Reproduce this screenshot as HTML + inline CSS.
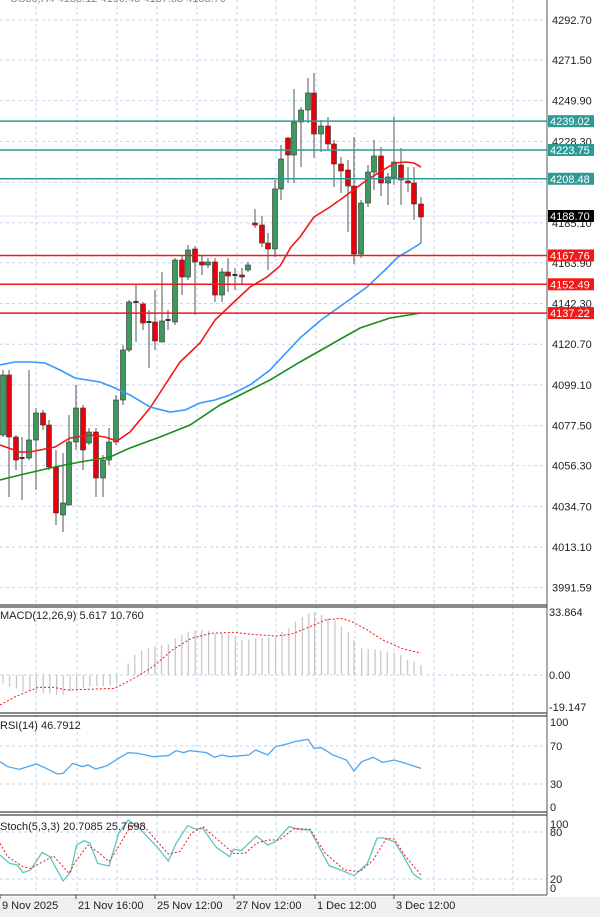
<!DOCTYPE html>
<html><head><meta charset="utf-8"><style>
html,body{margin:0;padding:0;background:#fff;width:600px;height:917px;overflow:hidden}
svg{display:block}
text{font-family:"Liberation Sans",sans-serif;font-size:11px;fill:#222}
</style></head><body>
<svg id="s" width="600" height="917" xmlns="http://www.w3.org/2000/svg"></svg>
<script>
const s=document.getElementById('s');let h='';
const Y=p=>20+(4292.7-p)*1.885;
// grid
const gx=[36,77,117,157,197,237,276,316,355,394,434,473,513];
const prices=[4292.70,4271.50,4249.90,4228.30,4206.70,4185.10,4163.90,4142.30,4120.70,4099.10,4077.50,4056.30,4034.70,4013.10,3991.59];
gx.forEach(x=>{h+=`<line x1="${x}" y1="0" x2="${x}" y2="895" stroke="#c5d3ea" stroke-dasharray="3,3"/>`});
prices.forEach(p=>{let y=Y(p);h+=`<line x1="0" y1="${y}" x2="547" y2="${y}" stroke="#c5d3ea" stroke-dasharray="3,3"/>`;
 if(p!=4206.70)h+=`<text x="552" y="${y+4}">${p.toFixed(2)}</text>`});
// sub grids
[746,784].forEach(y=>h+=`<line x1="0" y1="${y}" x2="547" y2="${y}" stroke="#c5d3ea" stroke-dasharray="3,3"/>`);
[832,879].forEach(y=>h+=`<line x1="0" y1="${y}" x2="547" y2="${y}" stroke="#c5d3ea" stroke-dasharray="3,3"/>`);
h+=`<line x1="0" y1="675" x2="547" y2="675" stroke="#c5d3ea" stroke-dasharray="3,3"/>`;
h+=`<line x1="0" y1="216" x2="547" y2="216" stroke="#dde4f0" stroke-width="1"/>`;
// candles
const C=[[3,375,435,'g',370,437],[9,375,437,'r',370,497],[16,437,460,'r',435,470],[22,458,460,'t',437,500],[29,440,458,'g',370,460],[36,413,440,'g',408,490],[43,413,425,'r',410,430],[49,425,467,'r',420,470],[56,467,513,'r',450,525],[63,503,515,'g',453,532],[69,442,505,'g',415,505],[76,408,442,'g',385,450],[83,408,450,'r',405,470],[89,432,443,'g',428,445],[96,432,478,'r',428,497],[103,460,478,'g',455,497],[109,442,460,'g',428,465],[116,400,442,'g',395,445],[123,350,400,'g',345,405],[129,302,350,'g',300,352],[136,302,303,'t',285,342],[143,304,323,'r',302,330],[149,322,323,'t',310,368],[155,322,341,'r',290,350],[162,321,342,'g',272,342],[168,320,321,'t',310,330],[175,260,322,'g',258,325],[182,260,277,'r',255,295],[188,250,277,'g',245,280],[195,249,262,'r',246,315],[202,262,265,'r',255,275],[208,262,265,'g',258,268],[215,262,295,'r',258,302],[222,272,295,'g',268,302],[228,272,276,'r',258,292],[235,275,276,'t',268,290],[242,275,277,'r',268,285],[248,265,270,'g',262,272],
[255,223,225,'r',209,228],[262,225,243,'r',216,247],[268,243,249,'r',233,270],[275,189,249,'g',180,257],[281,159,189,'g',145,200],[288,138,155,'r',137,183],[294,122,155,'g',89,183],[301,110,122,'g',107,167],[308,93,110,'g',78,123],[314,93,134,'r',73,158],[321,126,134,'g',120,152],[328,126,144,'r',117,150],[334,144,164,'r',140,187],[341,164,171,'r',157,193],[348,170,186,'r',160,232],[354,186,254,'r',137,264],[361,203,254,'g',200,258],[368,172,203,'g',165,207],[374,156,172,'g',140,190],[381,156,183,'r',147,196],[388,177,183,'g',173,205],[394,162,178,'g',117,185],[401,165,180,'r',148,205],[408,181,183,'r',167,192],[414,183,204,'r',167,220],[421,204,217,'r',197,243]];
C.forEach(c=>{let [x,t,b,k,wt,wb]=c;let col=k=='g'?'#3c9a5f':'#e8000b';
 h+=`<line x1="${x}" y1="${wt}" x2="${x}" y2="${wb}" stroke="#555" stroke-width="1"/>`;
 if(k=='t')h+=`<rect x="${x-2.5}" y="${t-1}" width="5" height="2" fill="#333"/>`;
 else h+=`<rect x="${x-2.5}" y="${t}" width="5" height="${Math.max(b-t,1.5)}" fill="${col}" stroke="#333" stroke-width="0.6"/>`;});
const P=(pts,col,w,da)=>`<polyline points="${pts.map(p=>p.join(',')).join(' ')}" fill="none" stroke="${col}" stroke-width="${w}" ${da?'stroke-dasharray="'+da+'"':''}/>`;
h+=P([[0,445],[20,452],[30,452],[55,447],[70,438],[90,435],[105,437],[117,441],[130,432],[150,408],[165,385],[180,362],[200,343],[215,320],[233,303],[250,287],[267,277],[280,266],[291,247],[300,237],[314,217],[330,207],[344,197],[367,180],[383,170],[395,163],[406,162],[414,163],[421,167]],'#f01818',1.6);
h+=P([[0,365],[15,362],[30,362],[45,363],[60,370],[75,378],[100,382],[115,388],[130,395],[150,407],[170,412],[185,410],[200,403],[215,400],[230,395],[250,385],[270,370],[300,338],[321,320],[345,303],[367,287],[385,270],[398,257],[410,250],[421,243]],'#3399ff',1.6);
h+=P([[0,480],[20,475],[50,468],[80,462],[110,457],[130,448],[160,437],[190,425],[220,405],[250,390],[270,380],[300,362],[330,345],[360,328],[390,318],[421,313]],'#1a8c1a',1.6);
// levels
[[4239.02,'#2e9a94'],[4223.75,'#2e9a94'],[4208.48,'#2e9a94'],[4167.76,'#f01818'],[4152.49,'#f01818'],[4137.22,'#f01818']].forEach(l=>{let y=Y(l[0]);
 h+=`<line x1="0" y1="${y}" x2="547" y2="${y}" stroke="${l[1]}" stroke-width="1.5"/>`;
 h+=`<rect x="548" y="${y-6}" width="46" height="12" fill="${l[1]}"/><text x="550" y="${y+4}" style="fill:#fff">${l[0].toFixed(2)}</text>`});
h+=`<rect x="548" y="210" width="46" height="12" fill="#000"/><text x="550" y="220" style="fill:#fff">4188.70</text>`;
// MACD histogram
const hv=[[8,250],[25,260],[43,265],[60,275],[78,275],[95,280],[113,280],[130,280],[148,285],[165,285],[183,275],[200,270],[218,265],[235,260],[253,258],[270,258],[288,255],[305,250],[335,190],[352,165],[370,152],[388,145],[405,137],[422,135],[440,132],[458,115],[475,105],[492,95],[510,92],[527,90],[545,92],[562,100],[580,100],[597,103],[615,108],[632,120],[650,118],[668,115],[685,115],[702,113],[720,110],[737,95],[755,85],[772,65],[790,52],[807,40],[822,38],[840,45],[857,55],[875,60],[892,80],[910,95],[925,120],[945,145],[962,147],[980,148],[995,152],[1012,155],[1030,158],[1047,165],[1065,180],[1082,185],[1100,195]];
hv.forEach(v=>{let x=v[0]/2.613,y=600+v[1]/3;h+=`<line x1="${x}" y1="675" x2="${x}" y2="${y}" stroke="#c8c8c8" stroke-width="1.3"/>`});
const cv=(a)=>a.map(p=>[p[0]/2.613,600+p[1]/3]);
h+=P(cv([[0,315],[40,290],[100,262],[140,262],[175,270],[230,268],[300,265],[350,235],[400,200],[450,150],[500,115],[550,100],[610,97],[660,103],[720,108],[760,103],[800,85],[850,60],[890,55],[920,65],[960,90],[1000,120],[1050,145],[1100,160]]),'#f01818',1,'2,2');
h+=P(cv([[0,485],[20,500],[50,508],[95,492],[120,505],[150,522],[165,520],[190,490],[215,500],[230,495],[250,507],[280,497],[310,475],[335,458],[360,460],[400,470],[440,467],[460,452],[480,458],[495,452],[540,458],[560,472],[580,465],[600,470],[650,465],[668,450],[700,465],[720,440],[750,432],[770,425],[805,418],[820,445],[840,443],[870,465],[905,480],[925,513],[945,485],[975,472],[1000,487],[1030,480],[1060,490],[1100,505]]),'#4ea6ee',1.3);
h+=P(cv([[0,765],[25,790],[45,795],[60,818],[80,810],[110,757],[130,770],[165,843],[185,815],[200,735],[220,722],[235,730],[255,790],[285,798],[310,700],[335,660],[360,680],[410,740],[440,783],[460,730],[490,677],[510,687],[530,685],[565,742],[600,770],[610,748],[630,752],[670,708],[700,735],[720,725],[755,680],[780,688],[810,690],[860,797],[895,812],[925,827],[960,790],[985,715],[1000,713],[1030,725],[1050,760],[1080,822],[1100,838]]),'#5cc6c0',1.3);
h+=P(cv([[0,730],[20,770],[60,800],[80,805],[140,768],[180,820],[200,780],[230,735],[260,760],[285,785],[310,740],[340,680],[370,670],[400,710],[440,762],[470,755],[500,700],[530,680],[560,710],[610,760],[640,760],[670,730],[700,720],[730,720],[770,685],[810,688],[850,760],[900,810],[940,815],[975,780],[1010,715],[1030,717],[1060,770],[1100,825]]),'#f01818',1,'2,2');
// panel frames
h+=`<line x1="547" y1="0" x2="547" y2="895" stroke="#555"/>`;
[[605,607],[713,716],[812,815]].forEach(p=>{h+=`<line x1="0" y1="${p[0]}" x2="547" y2="${p[0]}" stroke="#444" stroke-width="1.2"/><line x1="0" y1="${p[1]}" x2="547" y2="${p[1]}" stroke="#444" stroke-width="1.2"/>`});
h+=`<line x1="0" y1="895" x2="547" y2="895" stroke="#444"/>`;
h+=`<rect x="0" y="897" width="600" height="20" fill="#f0f0f0"/>`;
h+=`<text x="0" y="619">MACD(12,26,9) 5.617 10.760</text><text x="0" y="729">RSI(14) 46.7912</text><text x="0" y="830">Stoch(5,3,3) 20.7085 25.7698</text>`;
[[33.864,616],[0.00,679],[-19.147,711]].forEach(v=>h+=`<text x="549" y="${v[1]}">${v[0]==0?'0.00':v[0]}</text>`);
[['100',726],['70',750],['30',788],['0',811]].forEach(v=>h+=`<text x="550" y="${v[1]}">${v[0]}</text>`);
[['100',828],['80',836],['20',883],['0',892]].forEach(v=>h+=`<text x="550" y="${v[1]}">${v[0]}</text>`);
[['9 Nov 2025',0],['21 Nov 16:00',76],['25 Nov 12:00',155],['27 Nov 12:00',234],['1 Dec 12:00',315],['3 Dec 12:00',394]].forEach(v=>{h+=`<line x1="${v[1]+(v[0][0]=='9'?0:0)}" y1="895" x2="${v[1]}" y2="899" stroke="#444"/><text x="${v[1]+2}" y="909">${v[0]}</text>`});
h+=`<text x="10" y="2" style="fill:#888">US30,H4 4188.12 4190.43 4187.33 4188.70</text>`;
s.innerHTML=h;
</script>
</body></html>
